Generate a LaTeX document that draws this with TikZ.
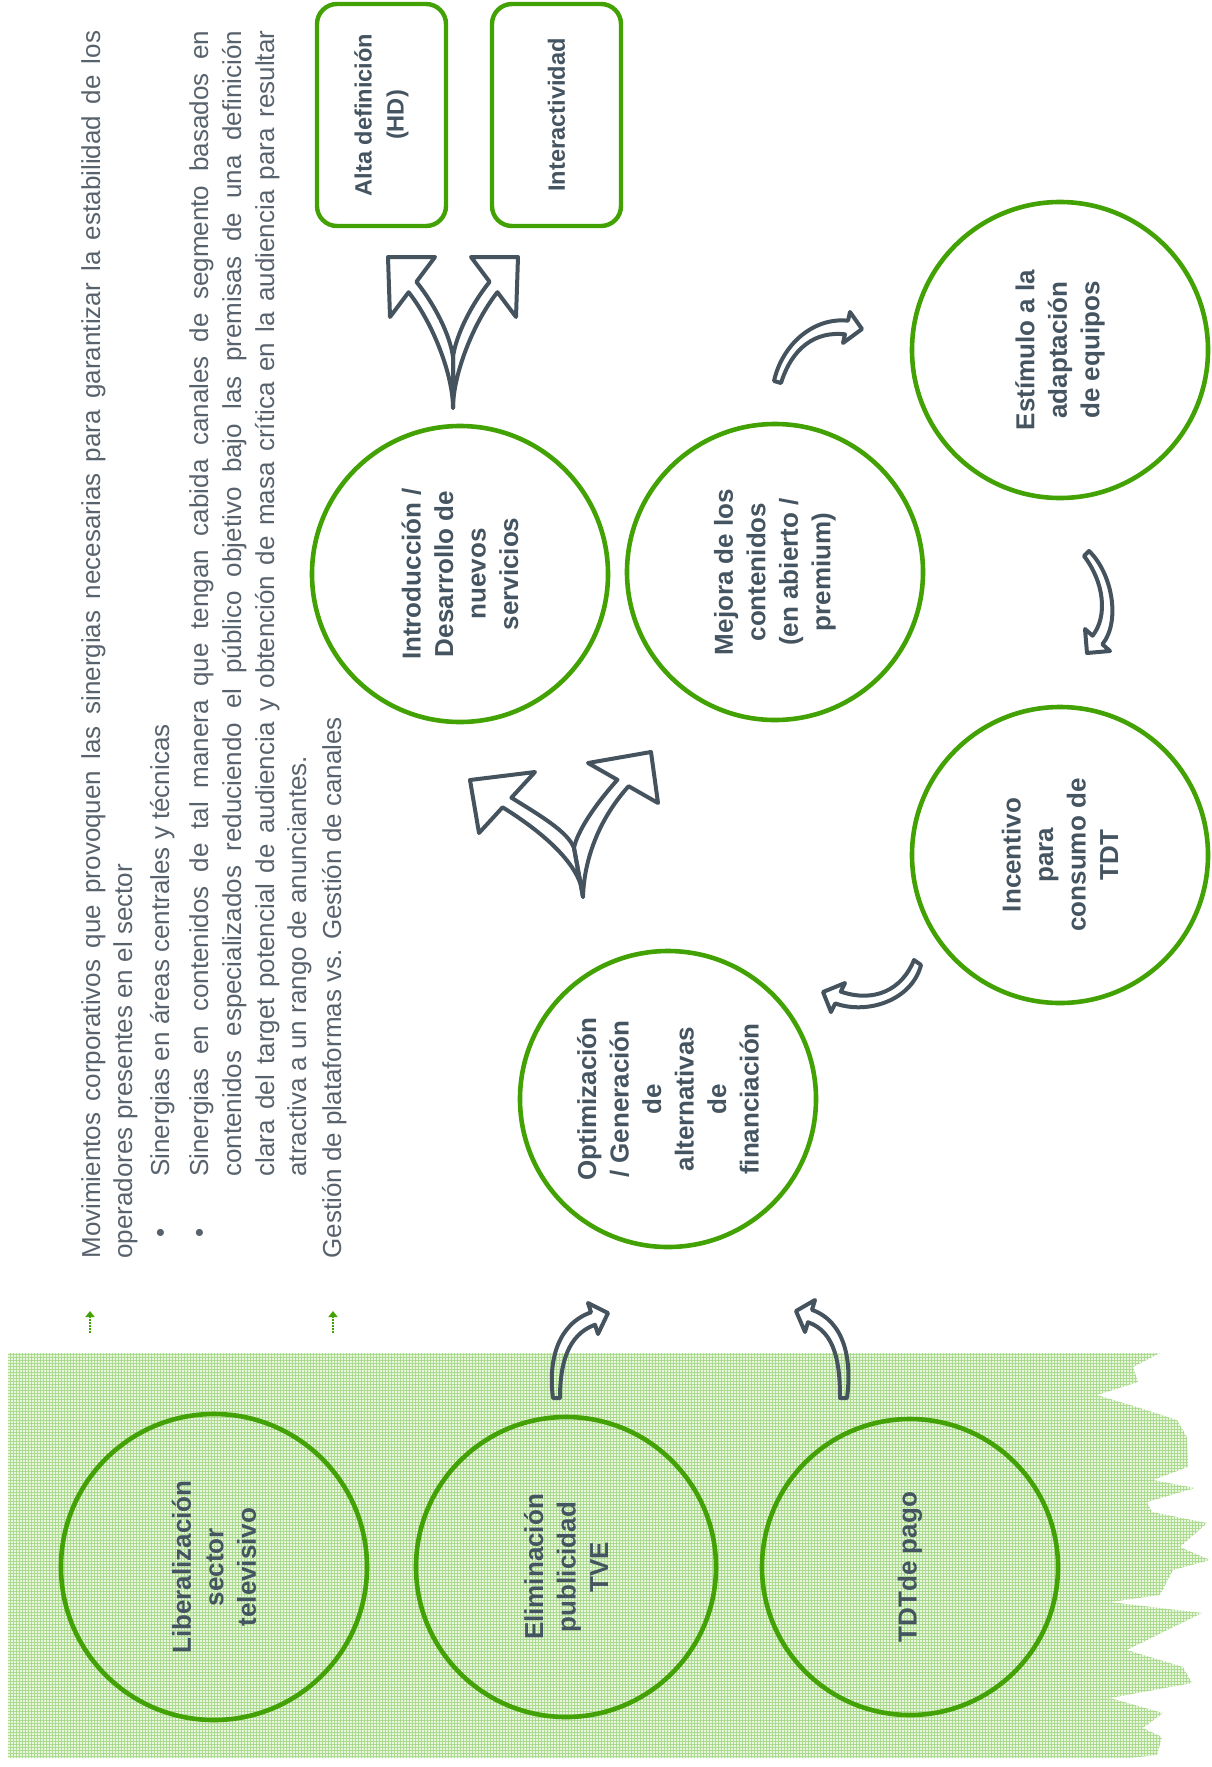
\documentclass[tikz,border=0pt]{standalone}
\usepackage{fontspec}
\setmainfont{Liberation Sans}
\usetikzlibrary{arrows.meta,patterns}
\definecolor{leaf}{RGB}{66,162,4}
\definecolor{slate}{RGB}{68,83,94}
\definecolor{inkgray}{RGB}{68,84,96}
\definecolor{bodygray}{RGB}{88,98,108}
\definecolor{meadow}{RGB}{232,245,223}
\definecolor{meadowline}{RGB}{172,218,142}
% fine grid for the shaded band
\pgfdeclarepatternformonly{finegrid}{\pgfqpoint{-0.1pt}{-0.1pt}}{\pgfqpoint{1.6pt}{1.6pt}}{\pgfqpoint{1.5pt}{1.5pt}}{
  \pgfsetlinewidth{0.4pt}
  \pgfpathmoveto{\pgfqpoint{0pt}{0.75pt}}\pgfpathlineto{\pgfqpoint{1.5pt}{0.75pt}}
  \pgfpathmoveto{\pgfqpoint{0.75pt}{0pt}}\pgfpathlineto{\pgfqpoint{0.75pt}{1.5pt}}
  \pgfusepath{stroke}}
\begin{document}
\begin{tikzpicture}[x=0.5pt, y=-0.5pt,
  ring/.style={circle, draw=leaf, line width=2.3pt, minimum size=#1, inner sep=0pt, rotate=90, align=center, text=inkgray, font=\fontsize{13}{16.25}\selectfont\bfseries},
  tagbox/.style={rectangle, rounded corners=10pt, draw=leaf, line width=2.2pt, minimum width=111pt, minimum height=64.5pt, inner sep=0pt, rotate=90, align=center, text=inkgray, font=\fontsize{11.8}{16}\selectfont\bfseries},
  bodyline/.style={rotate=90, anchor=base west, inner sep=0pt, text=bodygray, font=\fontsize{13}{17}\selectfont},
  dotitem/.style={rotate=90, anchor=base, inner sep=0pt, text=bodygray, font=\fontsize{13}{17}\selectfont},
  blockarrow/.style={draw=slate, line width=2pt, line join=round},
  greenbullet/.style={draw=leaf, line width=1.3pt, dash pattern=on 0.8pt off 0.7pt, -{Triangle[width=4.5pt,length=3pt]}}]
  \useasboundingbox (0,0) rectangle (1211,1767);

  % Shaded band with torn edge
  \path[preaction={fill=meadow}, pattern=finegrid, pattern color=meadowline]
    (8,1353) -- (1160,1353) -- (1133,1367) -- (1138,1382) -- (1097,1395) -- (1140,1408)
    -- (1177,1420) -- (1187,1437) -- (1188,1467) -- (1153,1480) -- (1195,1488) -- (1147,1502)
    -- (1152,1512) -- (1207,1523) -- (1180,1547) -- (1210,1560) -- (1173,1570) -- (1160,1595)
    -- (1110,1602) -- (1202,1613) -- (1127,1650) -- (1183,1667) -- (1192,1683) -- (1110,1698)
    -- (1163,1713) -- (1143,1728) -- (1162,1737) -- (1157,1755) -- (1130,1758) -- (8,1758) -- cycle;

  % Text block
  \node[bodyline] (l1) at (100,1259) {\makebox[614pt][s]{Movimientos corporativos que provoquen las sinergias necesarias para garantizar la estabilidad de los}};
  \node[bodyline] (l2) at (132,1259) {operadores presentes en el sector};
  \node[dotitem] (b1) at (169,1233) {\textbullet};
  \node[bodyline] (l3) at (169,1177) {Sinergias en áreas centrales y técnicas};
  \node[dotitem] (b2) at (208,1233) {\textbullet};
  \node[bodyline] (l4) at (208,1177) {\makebox[573pt][s]{Sinergias en contenidos de tal manera que tengan cabida canales de segmento basados en}};
  \node[bodyline] (l5) at (241,1177) {\makebox[573pt][s]{contenidos especializados reduciendo el público objetivo bajo las premisas de una definición}};
  \node[bodyline] (l6) at (274,1177) {\makebox[573pt][s]{clara del target potencial de audiencia y obtención de masa crítica en la audiencia para resultar}};
  \node[bodyline] (l7) at (306,1177) {atractiva a un rango de anunciantes.};
  \node[bodyline] (l8) at (341,1259) {Gestión de plataformas vs. Gestión de canales};
  \draw[greenbullet] (90,1333) -- (90,1311);
  \draw[greenbullet] (333,1333) -- (333,1311);

  % Boxes
  \node[tagbox] (hd) at (381.5,115) {Alta definición\\(HD)};
  \node[tagbox] (interact) at (556.5,115) {Interactividad};

  % Circles
  \node[ring=153pt] (lib) at (214,1567) {Liberalización\\sector\\televisivo};
  \node[ring=150pt] (elim) at (566,1567) {Eliminación\\publicidad\\TVE};
  \node[ring=148pt] (tdtpago) at (910,1567) {TDTde pago};
  \node[ring=148pt] (optim) at (668,1099) {Optimización\\/ Generación\\de\\alternativas\\de\\financiación};
  \node[ring=148pt] (intro) at (460,574) {Introducción /\\Desarrollo de\\nuevos\\servicios};
  \node[ring=148pt] (mejora) at (775,572) {Mejora de los\\contenidos\\(en abierto /\\premium)};
  \node[ring=148pt] (estim) at (1060,350) {Estímulo a la\\adaptación\\de equipos};
  \node[ring=148pt] (incent) at (1060,855) {Incentivo\\para\\consumo de\\TDT};

  % Fork above Introduccion
  \draw[blockarrow] (453,408) .. controls (453,375) and (433,323) .. (408.6,292.2) -- (390,317) -- (388,257)
    -- (435,257) -- (416.4,281.8) .. controls (435,305) and (450,335) .. (453,357) -- cycle;
  \draw[blockarrow] (453,408) .. controls (453,375) and (473,323) .. (497.4,292.2) -- (516,317) -- (518,257)
    -- (471,257) -- (489.6,281.8) .. controls (471,305) and (456,335) .. (453,357) -- cycle;

  % Fork above Optimizacion
  \draw[blockarrow] (583,897) .. controls (582,865) and (541,831) .. (502.6,807.3) -- (479,833) -- (470,780)
    -- (535,772) -- (511.4,797.7) .. controls (541,816) and (568,832) .. (574,848) -- cycle;
  \draw[blockarrow] (583,897) .. controls (584,860) and (598.5,819.6) .. (628.6,786.2) -- (658,803) -- (651,752)
    -- (588,763) -- (617.4,779.8) .. controls (594,806) and (577,832) .. (574,848) -- cycle;

  % Single curved arrows round the cycle
  \draw[blockarrow] (774,381) .. controls (782,345) and (813,317) .. (848,320.7) -- (850,312) -- (862,329)
    -- (843,343) -- (845,334.3) .. controls (815,331) and (792,348) .. (781,383) -- cycle;
  \draw[blockarrow] (1089,551) .. controls (1112,573) and (1121,621) .. (1102.4,644.3) -- (1110,651) -- (1087,653)
    -- (1085,629) -- (1092.6,635.7) .. controls (1108,616) and (1104,582) .. (1084,556) -- cycle;
  \draw[blockarrow] (914,960) .. controls (902,990) and (874,1003) .. (840.8,991.6) -- (845,983) -- (823,992)
    -- (831,1012) -- (835.2,1003.4) .. controls (868,1015) and (912,1000) .. (921,965) -- cycle;

  % Arrows out of the shaded band
  \draw[blockarrow] (553,1398) .. controls (548,1360) and (558,1324) .. (591,1312.3) -- (588,1303) -- (608,1313)
    -- (598,1334) -- (595,1324.7) .. controls (567,1335) and (560,1365) .. (560,1398) -- cycle;
  \draw[blockarrow] (847,1398) .. controls (852,1360) and (845,1322) .. (812,1309.8) -- (815,1300) -- (796,1311)
    -- (805,1332) -- (808,1322.2) .. controls (836,1332) and (840,1365) .. (840,1398) -- cycle;
\end{tikzpicture}
\end{document}
